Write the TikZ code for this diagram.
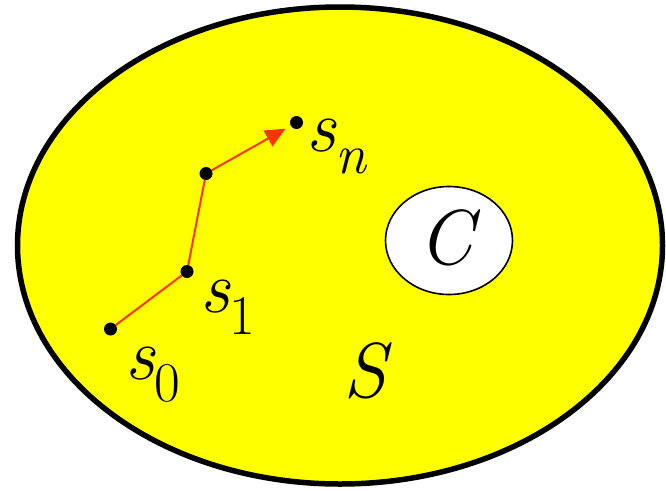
\documentclass[tikz,border=0pt]{standalone}
\usepackage{fontspec}
\usetikzlibrary{arrows.meta,shapes.geometric}
\definecolor{bgyellow}{HTML}{FFFF00}
\definecolor{pathred}{HTML}{FF3300}
\newcommand\statelab[2]{{\fontsize{74}{74}\selectfont\itshape #1}\raisebox{-22pt}{\fontsize{56}{56}\selectfont #2}}
\tikzset{
  dot/.style={circle,fill=black,inner sep=0pt,minimum size=13pt},
  lab/.style={anchor=base west,inner sep=0pt},
  bigletter/.style={anchor=base west,inner sep=0pt,font=\fontsize{78}{78}\selectfont\itshape},
  pathline/.style={draw=pathred,line width=2pt},
  region/.style={ellipse,draw,inner sep=0pt},
}
\begin{document}
\begin{tikzpicture}[x=1pt,y=-1pt]
\useasboundingbox (0,0) rectangle (666,490);
\node[region,fill=bgyellow,line width=5.5pt,minimum width=645pt,minimum height=477pt] (Sset) at (340,245.5) {};
\node[region,fill=white,line width=1.6pt,minimum width=127pt,minimum height=108pt] (Cset) at (449,240.5) {};
\node[bigletter] (C) at (418,264) {C};
\node[bigletter] (S) at (343,397) {S};
\node[dot] (d0) at (110.5,329) {};
\node[dot] (d1) at (187,271.5) {};
\node[dot] (dm) at (206,173.5) {};
\node[dot] (dn) at (296.5,122.5) {};
\draw[pathline] (d0) -- (d1);
\draw[pathline] (d1) -- (dm);
\draw[pathline,-{Triangle[length=20pt,width=18pt]},shorten >=6pt] (dm) -- (dn);
\node[lab] (l0) at (125,379) {\statelab{s}{0}};
\node[lab] (l1) at (200,312) {\statelab{s}{1}};
\node[lab] (ln) at (306,151) {\statelab{s}{\itshape n}};
\end{tikzpicture}
\end{document}
